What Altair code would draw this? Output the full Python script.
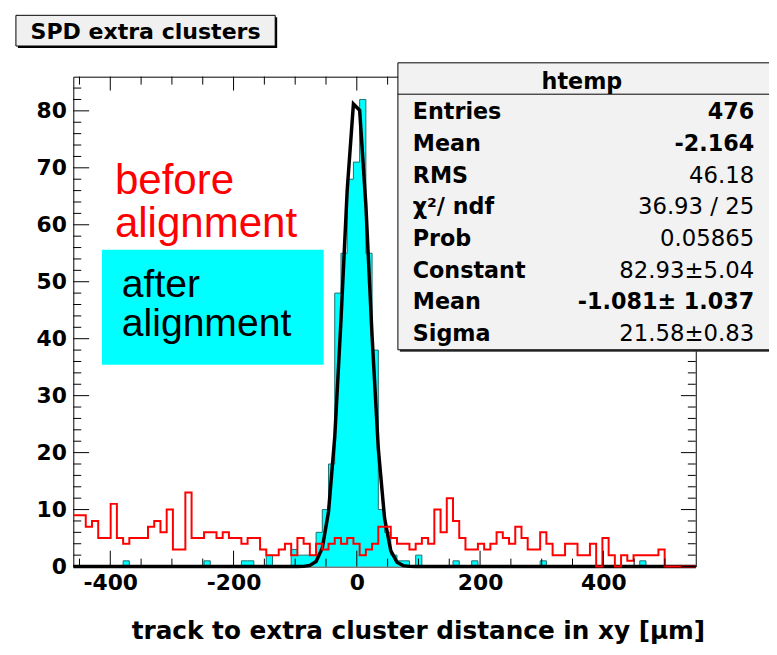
import altair as alt
import pandas as pd

# ---------------- data ----------------
X_DOMAIN = [-460, 550]
Y_DOMAIN = [0, 86]
BIN_LO = -460
BIN_W = 10.1

# "before alignment" histogram (red), 100 bins
RED = [9, 9, 7, 8, 5, 5, 11, 5, 4, 5,
       5, 5, 7, 8, 6, 10, 3, 3, 13, 5,
       5, 6, 6, 5, 6, 5, 5, 4, 5, 5,
       3, 2, 2, 3, 4, 2, 5, 4, 2, 4,
       3, 4, 5, 4, 5, 4, 2, 3, 4, 7,
       7, 5, 4, 4, 3, 4, 5, 4, 10, 6,
       12, 8, 5, 3, 3, 4, 3, 4, 6, 5,
       4, 7, 5, 3, 3, 6, 4, 2, 2, 4,
       4, 2, 2, 4, 0, 5, 2, 0, 2, 1,
       2, 2, 2, 2, 3, 0, 0, 0, 0, 0]

# "after alignment" histogram htemp (cyan), 100 bins
CYAN = [0, 0, 0, 0, 0, 0, 0, 0, 1, 0,
        0, 0, 0, 0, 0, 0, 0, 0, 0, 0,
        0, 1, 0, 0, 0, 0, 0, 1, 1, 0,
        0, 2, 0, 0, 0, 3, 2, 2, 2, 6,
        10, 18, 48, 55, 68, 71, 82, 55, 38, 10,
        6, 2, 1, 1, 0, 2, 0, 0, 0, 0,
        0, 1, 0, 0, 1, 0, 0, 0, 0, 0,
        0, 0, 0, 0, 0, 1, 0, 0, 0, 0,
        0, 0, 0, 0, 0, 0, 0, 0, 0, 0,
        0, 1, 0, 0, 0, 0, 0, 0, 0, 0]

# gaussian fit curve as drawn
FIT_X = [-460, -106.5, -96.4, -86.3, -76.2, -66.1, -56.0, -45.9, -35.8, -25.7,
         -15.6, -5.5, 4.6, 14.7, 24.8, 34.9, 45.0, 55.1, 65.2, 75.3, 85.4, 95.5, 550]
FIT_Y = [0, 0, 0.005, 0.03, 0.19, 0.89, 3.25, 9.6, 22.7, 43.2,
         66.1, 81.2, 80.1, 63.5, 40.4, 20.7, 8.5, 2.8, 0.74, 0.16, 0.03, 0, 0]

X_MAJOR = [-400, -200, 0, 200, 400]
X_MINOR = [-450, -350, -300, -250, -150, -100, -50, 50, 100, 150, 250, 300, 350, 450, 500]
Y_MAJOR = [0, 10, 20, 30, 40, 50, 60, 70, 80]
Y_MINOR = [2, 4, 6, 8, 12, 14, 16, 18, 22, 24, 26, 28, 32, 34, 36, 38, 42, 44, 46, 48,
           52, 54, 56, 58, 62, 64, 66, 68, 72, 74, 76, 78, 82, 84]

TITLE = "SPD extra clusters"
X_TITLE = "track to extra cluster distance in xy [\u03bcm]"
STAT_NAME = "htemp"
STAT_LABELS = ["Entries", "Mean", "RMS", "\u03c7\u00b2/ ndf", "Prob", "Constant", "Mean", "Sigma"]
STAT_VALUES = ["476", "-2.164", "46.18", "36.93 / 25", "0.05865", "82.93\u00b15.04",
               "-1.081\u00b1 1.037", "21.58\u00b10.83"]
STAT_BOLD = [True, True, False, False, False, False, True, False]
LEG_BEFORE = ["before", "alignment"]
LEG_AFTER = ["after", "alignment"]

# ---------------- layout ----------------
W, H = 629, 495
FONT = "DejaVu Sans"

edges = [BIN_LO + BIN_W * i for i in range(len(RED) + 1)]
red_df = pd.DataFrame({"x": edges, "n": RED + [RED[-1]]})
cyan_df = pd.DataFrame({"x": edges, "n": CYAN + [CYAN[-1]]})
fit_df = pd.DataFrame({"x": FIT_X, "n": FIT_Y})
one = pd.DataFrame({"d": [0]})

xs = alt.Scale(domain=X_DOMAIN, nice=False, zero=False)
ys = alt.Scale(domain=Y_DOMAIN, nice=False, zero=False)

x_axis = alt.Axis(values=X_MAJOR, ticks=False, domain=False, grid=False,
                  labelFont=FONT, labelFontWeight="bold", labelFontSize=22,
                  labelColor="black", labelPadding=6, labelFlush=False,
                  labelExpr="datum.value < 0 ? '-' + abs(datum.value) : '' + datum.value",
                  title=X_TITLE, titleFont=FONT, titleFontWeight="bold", titleFontSize=25,
                  titleColor="black", titleAnchor="end", titleAlign="right",
                  titleX=638, titleY=73, titleBaseline="alphabetic")
y_axis = alt.Axis(values=Y_MAJOR, ticks=False, domain=False, grid=False,
                  labelFont=FONT, labelFontWeight="bold", labelFontSize=22,
                  labelColor="black", labelPadding=7, title="")


def X(field):
    return alt.X(field, scale=xs, axis=x_axis)


def Y(field):
    return alt.Y(field, scale=ys, axis=y_axis)


cyan_area = alt.Chart(cyan_df).mark_area(interpolate="step-after", color="#00ffff").encode(
    x=X("x:Q"), y=Y("n:Q"))
cyan_line = alt.Chart(cyan_df).mark_line(interpolate="step-after", color="#1f6f6f",
                                         strokeWidth=1).encode(x=X("x:Q"), y=Y("n:Q"))
fit = alt.Chart(fit_df).mark_line(color="black", strokeWidth=3.5).encode(x=X("x:Q"), y=Y("n:Q"))
red = alt.Chart(red_df).mark_line(interpolate="step-after", color="#ff0000",
                                  strokeWidth=2).encode(x=X("x:Q"), y=Y("n:Q"))


def xticks(vals, y0, y1):
    return alt.Chart(pd.DataFrame({"x": vals})).mark_rule(color="black", strokeWidth=1).encode(
        x=X("x:Q"), y=alt.value(y0), y2=alt.value(y1))


def yticks(vals, x0, x1):
    return alt.Chart(pd.DataFrame({"n": vals})).mark_rule(color="black", strokeWidth=1).encode(
        y=Y("n:Q"), x=alt.value(x0), x2=alt.value(x1))


ticks = [
    xticks(X_MAJOR, H, H - 16), xticks(X_MINOR, H, H - 8),
    xticks(X_MAJOR, 0, 14), xticks(X_MINOR, 0, 8),
    yticks(Y_MAJOR, 0, 16), yticks(Y_MINOR, 0, 8),
    yticks(Y_MAJOR, W, W - 15), yticks(Y_MINOR, W, W - 8),
]


def rect(x0, x1, y0, y1, **kw):
    return alt.Chart(one).mark_rect(**kw).encode(
        x=alt.value(x0), x2=alt.value(x1), y=alt.value(y0), y2=alt.value(y1))


def text(lines, x, y, **kw):
    return alt.Chart(one).mark_text(**kw).encode(
        x=alt.value(x), y=alt.value(y), text=alt.value(lines))


legend = [
    text(LEG_BEFORE, 42, 119, align="left", baseline="alphabetic", font="Liberation Sans",
         fontSize=42.5, lineHeight=43.5, color="#ff0000"),
    rect(29, 253, 175, 291, color="#00ffff"),
    text(LEG_AFTER, 49, 222.7, align="left", baseline="alphabetic", font="Liberation Sans",
         fontSize=39.5, lineHeight=39.5, color="black"),
]

title_box = [
    rect(-56, 206, -60, -29, color="black"),
    rect(-58, 204, -62, -31, fill="#f0f0f0", stroke="black", strokeWidth=1),
    text(TITLE, 73, -38, align="center", baseline="alphabetic", font=FONT,
         fontWeight="bold", fontSize=22.3, color="black"),
]

stats_box = [
    rect(330, 710, -12, 278, color="#333333"),
    rect(328, 708, -14, 276, fill="#f2f2f2", stroke="black", strokeWidth=1),
    alt.Chart(one).mark_rule(color="black", strokeWidth=1).encode(
        x=alt.value(328), x2=alt.value(708), y=alt.value(17.7)),
    text(STAT_NAME, 514, 12.5, align="center", baseline="alphabetic", font=FONT,
         fontWeight="bold", fontSize=22.5, color="black"),
    text(STAT_LABELS, 343, 43, align="left", baseline="alphabetic", font=FONT,
         fontWeight="bold", fontSize=22.5, lineHeight=32, color="black"),
]
for i, (v, b) in enumerate(zip(STAT_VALUES, STAT_BOLD)):
    stats_box.append(
        text(v, 688, 43 + 32 * i, align="right", baseline="alphabetic", font=FONT,
             fontWeight="bold" if b else "normal", fontSize=22.5 if b else 23, color="black"))

chart = alt.layer(
    cyan_area, cyan_line, fit, red, *ticks, *legend, *title_box, *stats_box
).properties(
    width=W, height=H,
    padding={"left": 66, "top": 66, "right": 74, "bottom": 86},
    autosize=alt.AutoSizeParams(type="none"),
    background="white",
).configure_view(stroke="black", strokeWidth=1)

chart.save("out.html", embed_options={"renderer": "svg", "actions": False})
